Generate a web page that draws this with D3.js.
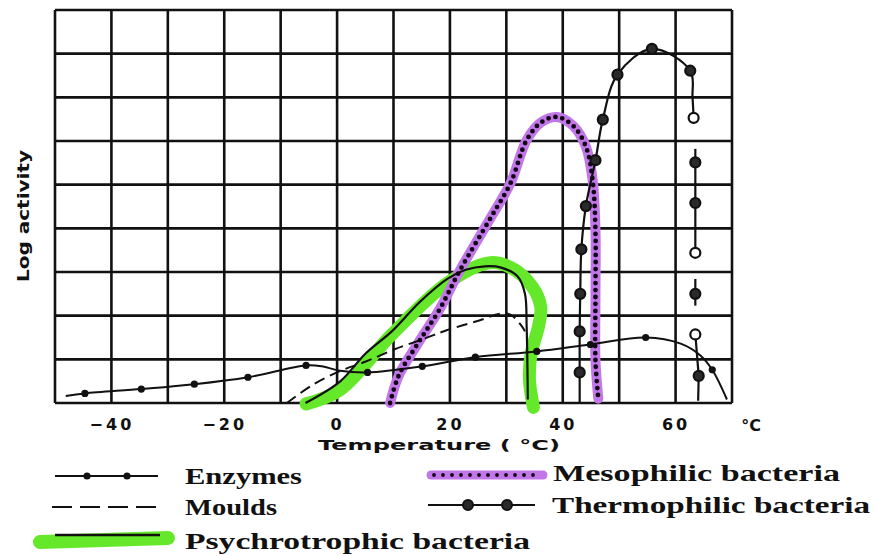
<!DOCTYPE html>
<html><head><meta charset="utf-8">
<script src="https://cdn.jsdelivr.net/npm/d3@7"></script>
<style>body{margin:0;background:#fff}</style>
</head><body><svg id="c" width="880" height="556"></svg>
<script>
// ---- data (temperature °C, log activity units) ----
const tempTicks = [-40, -20, 0, 20, 40, 60];
const gridTemps = d3.range(-50, 71, 10);
const gridLogs = d3.range(0, 10, 1);

// [temp, log activity, dot?]
const enzymes = [[-48.1,0.16,0],[-44.7,0.22,1],[-34.7,0.32,1],[-25.3,0.43,1],[-15.8,0.59,1],[-5.5,0.86,1],[-2.7,0.84,0],[0.5,0.74,0],[5.4,0.70,1],[15.1,0.84,1],[24.5,1.05,1],[35.4,1.18,1],[44.9,1.34,1],[54.7,1.50,1],[60.9,1.36,0],[64.4,1.09,0],[66.5,0.76,1],[69.1,0.08,0]];
const moulds = [[-8.9,0],[-4.4,0.41],[0.5,0.73],[5.1,0.95],[10.2,1.23],[15.6,1.48],[19.3,1.66],[25.2,1.89],[29.1,2.05],[30.8,2.02],[32.8,1.75],[33.3,1.64]];
const psychro = [[-5.6,0],[0.5,0.49],[5.1,1.14],[9.7,1.64],[14.7,2.32],[19.6,2.85],[22.8,3.05],[26.2,3.13],[29.1,3.10],[32.0,2.90],[33.3,2.5],[33.6,1.75],[33.8,0.08]];
const psychroHighlight = [[-5.5,-0.02],[0.5,0.30],[9.7,1.57],[19.6,2.75],[26.9,3.21],[30.8,3.10],[34.6,2.66],[36.1,2.20],[35.7,1.75],[34.4,1.14],[34.1,0.54],[34.8,-0.1]];
const mesophilic = [[9.4,0],[10.9,0.62],[14.5,1.4],[18.2,2.15],[21.7,3.02],[27.4,4.28],[30.8,5.05],[33.6,6.02],[36.2,6.43],[39.0,6.55],[41.9,6.34],[44.1,5.87],[45.3,5.10],[45.8,3.94],[45.8,2.45],[45.8,0.98],[46.3,0.1]];
// [temp, log activity, marker: 0 none, 1 filled, 2 open]
const thermoMain = [[43.0,0,0],[43.0,0.70,1],[43.0,1.64,1],[43.1,2.5,1],[43.3,3.52,1],[44.1,4.51,1],[45.8,5.56,1],[47.1,6.49,1],[49.7,7.52,1],[55.8,8.11,1],[62.6,7.61,1],[63.0,7.0,0],[63.2,6.53,2]];
const thermoSeg2 = [[63.5,5.82,0],[63.5,5.51,1],[63.5,4.58,1],[63.5,3.44,2]];
const thermoSeg3 = [[63.5,2.84,0],[63.5,2.5,1],[63.5,2.23,0]];
const thermoSeg4 = [[63.5,1.57,2],[64.1,0.62,1],[64.0,0.05,0]];

const legendLeft = ["Enzymes", "Moulds", "Psychrotrophic bacteria"];
const legendRight = ["Mesophilic bacteria", "Thermophilic bacteria"];

// ---- layout ----
const svg = d3.select("#c");
const x = d3.scaleLinear().domain([-50, 70]).range([55, 732]);
const y = d3.scaleLinear().domain([0, 9]).range([403, 10]);

const PURPLE = "#c277e8", GREEN = "#66e82a", INK = "#111";

// grid
const grid = svg.append("g");
grid.selectAll("line.v").data(gridTemps).join("line")
  .attr("x1", d => x(d)).attr("x2", d => x(d)).attr("y1", y(9)).attr("y2", y(0))
  .attr("stroke", INK).attr("stroke-width", 2.6);
grid.selectAll("line.h").data(gridLogs).join("line")
  .attr("y1", d => y(d)).attr("y2", d => y(d)).attr("x1", x(-50)).attr("x2", x(70))
  .attr("stroke", INK).attr("stroke-width", 2.6);

const lineCR = d3.line().x(d => x(d[0])).y(d => y(d[1])).curve(d3.curveCatmullRom.alpha(0.5));
const lineL = d3.line().x(d => x(d[0])).y(d => y(d[1]));

// highlights
svg.append("path").attr("d", lineCR(psychroHighlight)).attr("fill", "none")
  .attr("stroke", GREEN).attr("stroke-width", 13).attr("stroke-linecap", "round").attr("stroke-linejoin", "round");
svg.append("path").attr("d", lineCR(mesophilic)).attr("fill", "none")
  .attr("stroke", PURPLE).attr("stroke-width", 10).attr("stroke-linecap", "round").attr("stroke-linejoin", "round");

// moulds
svg.append("path").attr("d", lineCR(moulds)).attr("fill", "none")
  .attr("stroke", INK).attr("stroke-width", 2).attr("stroke-dasharray", "11 6");

// enzymes
svg.append("path").attr("d", lineCR(enzymes)).attr("fill", "none")
  .attr("stroke", INK).attr("stroke-width", 2);
svg.selectAll("circle.enz").data(enzymes.filter(d => d[2])).join("circle")
  .attr("cx", d => x(d[0])).attr("cy", d => y(d[1])).attr("r", 3.6).attr("fill", INK);

// psychrotrophic line
svg.append("path").attr("d", lineCR(psychro)).attr("fill", "none")
  .attr("stroke", INK).attr("stroke-width", 2.2);

// mesophilic dots
svg.append("path").attr("d", lineCR(mesophilic)).attr("fill", "none")
  .attr("stroke", "#120616").attr("stroke-width", 4.8).attr("stroke-linecap", "round")
  .attr("stroke-dasharray", "0 7");

// thermophilic
function thermo(seg, gen) {
  svg.append("path").attr("d", gen(seg)).attr("fill", "none")
    .attr("stroke", INK).attr("stroke-width", 2.2);
  svg.append("g").selectAll("circle").data(seg.filter(d => d[2])).join("circle")
    .attr("cx", d => x(d[0])).attr("cy", d => y(d[1])).attr("r", 5)
    .attr("fill", d => d[2] === 2 ? "#fff" : "#2a2a2a")
    .attr("stroke", INK).attr("stroke-width", 2.2);
}
thermo(thermoMain, lineCR);
thermo(thermoSeg2, lineL);
thermo(thermoSeg3, lineL);
thermo(thermoSeg4, lineL);

// x axis labels
const ax = svg.append("g").attr("transform", `translate(0,${y(0)})`)
  .call(d3.axisBottom(x).tickValues(tempTicks).tickSize(0).tickPadding(16));
ax.select(".domain").remove();
ax.selectAll("text").attr("font-family", "DejaVu Sans").attr("font-weight", "bold")
  .attr("font-size", 16).attr("letter-spacing", 3).attr("fill", INK);
svg.append("text").attr("x", 751).attr("y", 431).attr("text-anchor", "middle")
  .attr("font-family", "DejaVu Sans").attr("font-weight", "bold").attr("font-size", 16)
  .attr("fill", INK).text("°C");
svg.append("text").attr("x", 318).attr("y", 450)
  .attr("font-family", "DejaVu Sans").attr("font-weight", "bold").attr("font-size", 14)
  .attr("textLength", 242).attr("lengthAdjust", "spacingAndGlyphs")
  .attr("fill", INK).text("Temperature ( °C)");
svg.append("text").attr("transform", "translate(29,216) rotate(-90)").attr("text-anchor", "middle")
  .attr("font-family", "DejaVu Sans").attr("font-weight", "bold").attr("font-size", 16)
  .attr("textLength", 132).attr("lengthAdjust", "spacingAndGlyphs")
  .attr("fill", INK).text("Log activity");

// legend
const lg = svg.append("g");
const serif = t => t.attr("font-family", "Liberation Serif").attr("font-weight", "bold")
  .attr("font-size", 23).attr("fill", INK).attr("lengthAdjust", "spacingAndGlyphs");
// Enzymes
lg.append("line").attr("x1", 55).attr("x2", 158).attr("y1", 476).attr("y2", 476).attr("stroke", INK).attr("stroke-width", 2);
lg.selectAll("circle.le").data([87, 127]).join("circle").attr("cx", d => d).attr("cy", 476).attr("r", 3.6).attr("fill", INK);
serif(lg.append("text").attr("x", 185).attr("y", 484).attr("textLength", 117).text(legendLeft[0]));
// Moulds
lg.append("line").attr("x1", 52).attr("x2", 157).attr("y1", 507).attr("y2", 507).attr("stroke", INK).attr("stroke-width", 2).attr("stroke-dasharray", "20 8");
serif(lg.append("text").attr("x", 185).attr("y", 515).attr("textLength", 92).text(legendLeft[1]));
// Psychrotrophic
lg.append("line").attr("x1", 40).attr("x2", 168).attr("y1", 542).attr("y2", 538).attr("stroke", GREEN).attr("stroke-width", 14).attr("stroke-linecap", "round");
lg.append("line").attr("x1", 55).attr("x2", 160).attr("y1", 535).attr("y2", 535).attr("stroke", INK).attr("stroke-width", 2.5);
serif(lg.append("text").attr("x", 185).attr("y", 549).attr("textLength", 345).text(legendLeft[2]));
// Mesophilic
lg.append("line").attr("x1", 431).attr("x2", 543).attr("y1", 475).attr("y2", 475).attr("stroke", PURPLE).attr("stroke-width", 9).attr("stroke-linecap", "round");
lg.append("line").attr("x1", 434).attr("x2", 542).attr("y1", 475).attr("y2", 475).attr("stroke", "#120616").attr("stroke-width", 3.8).attr("stroke-linecap", "round").attr("stroke-dasharray", "0 9");
serif(lg.append("text").attr("x", 553).attr("y", 481).attr("textLength", 287).text(legendRight[0]));
// Thermophilic
lg.append("line").attr("x1", 428).attr("x2", 535).attr("y1", 505).attr("y2", 505).attr("stroke", INK).attr("stroke-width", 2.2);
lg.selectAll("circle.lt").data([468, 507]).join("circle").attr("cx", d => d).attr("cy", 505).attr("r", 5).attr("fill", "#2a2a2a").attr("stroke", INK).attr("stroke-width", 2);
serif(lg.append("text").attr("x", 552).attr("y", 513).attr("textLength", 318).text(legendRight[1]));
</script>
</body></html>
